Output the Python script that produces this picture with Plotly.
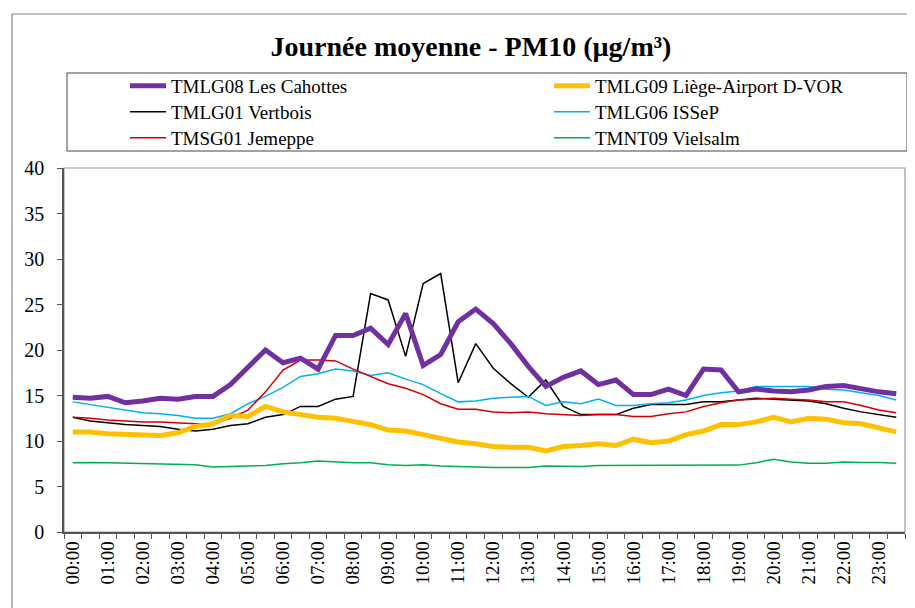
import plotly.graph_objects as go

times = [f"{h:02d}:{m:02d}" for h in range(24) for m in (0, 30)]
tick_text = [t if t.endswith(":00") else "" for t in times]

tmlg08 = [14.8, 14.7, 14.9, 14.2, 14.4, 14.7, 14.6, 14.9, 14.9, 16.2,
          18.1, 20.0, 18.6, 19.1, 17.9, 21.6, 21.6, 22.4, 20.6, 24.0,
          18.3, 19.5, 23.1, 24.5, 22.9, 20.7, 18.2, 16.0, 17.0, 17.7,
          16.2, 16.7, 15.1, 15.1, 15.7, 15.0, 17.9, 17.8, 15.4, 15.7,
          15.5, 15.4, 15.6, 16.0, 16.1, 15.7, 15.4, 15.2]
tmlg09 = [11.0, 11.0, 10.8, 10.7, 10.6, 10.6, 10.9, 11.6, 11.9, 12.8,
          12.7, 13.8, 13.2, 12.9, 12.6, 12.5, 12.1, 11.8, 11.2, 11.1,
          10.7, 10.3, 9.9, 9.7, 9.4, 9.3, 9.3, 8.9, 9.4, 9.5,
          9.7, 9.5, 10.2, 9.8, 10.0, 10.7, 11.1, 11.8, 11.8, 12.1,
          12.6, 12.1, 12.5, 12.4, 12.0, 11.9, 11.5, 11.0]
tmlg01 = [12.6, 12.2, 12.0, 11.8, 11.7, 11.6, 11.3, 11.1, 11.3, 11.7,
          11.9, 12.6, 12.9, 13.8, 13.8, 14.6, 14.9, 26.2, 25.5, 19.3,
          27.3, 28.4, 16.4, 20.7, 18.0, 16.3, 14.8, 16.7, 13.8, 12.9,
          12.9, 12.9, 13.6, 14.0, 14.0, 14.0, 14.3, 14.3, 14.5, 14.7,
          14.6, 14.5, 14.4, 14.1, 13.6, 13.2, 12.9, 12.6]
tmlg06 = [14.3, 14.0, 13.7, 13.4, 13.1, 13.0, 12.8, 12.5, 12.5, 13.0,
          14.1, 14.9, 15.9, 17.1, 17.4, 17.9, 17.7, 17.2, 17.5, 16.8,
          16.2, 15.2, 14.3, 14.4, 14.7, 14.8, 14.9, 13.9, 14.3, 14.1,
          14.6, 13.9, 13.9, 14.1, 14.2, 14.5, 15.0, 15.3, 15.5, 16.0,
          16.0, 16.0, 16.0, 15.7, 15.6, 15.3, 15.0, 14.5]
tmsg01 = [12.6, 12.5, 12.3, 12.2, 12.1, 12.1, 12.0, 11.9, 11.9, 12.5,
          13.4, 15.4, 17.8, 18.9, 18.9, 18.8, 17.9, 17.1, 16.3, 15.8,
          15.1, 14.1, 13.5, 13.5, 13.2, 13.1, 13.2, 13.0, 12.9, 12.8,
          12.9, 12.9, 12.7, 12.7, 13.0, 13.2, 13.8, 14.2, 14.5, 14.6,
          14.7, 14.6, 14.5, 14.3, 14.3, 13.9, 13.4, 13.1]
tmnt09 = [7.6, 7.65, 7.6, 7.55, 7.5, 7.45, 7.4, 7.4, 7.15, 7.2,
          7.25, 7.3, 7.5, 7.6, 7.8, 7.7, 7.6, 7.6, 7.4, 7.3,
          7.4, 7.25, 7.2, 7.1, 7.1, 7.1, 7.1, 7.25, 7.2, 7.2,
          7.3, 7.3, 7.3, 7.3, 7.35, 7.35, 7.35, 7.3, 7.35, 7.6,
          8.0, 7.7, 7.55, 7.55, 7.7, 7.65, 7.65, 7.55]

series = [
    ("TMLG08 Les Cahottes", tmlg08, "#7030A0", 5, "legend"),
    ("TMLG09 Liège-Airport D-VOR", tmlg09, "#FFC000", 5, "legend2"),
    ("TMLG01 Vertbois", tmlg01, "#000000", 1.5, "legend3"),
    ("TMLG06 ISSeP", tmlg06, "#00B0F0", 1.5, "legend4"),
    ("TMSG01 Jemeppe", tmsg01, "#D00000", 1.5, "legend5"),
    ("TMNT09 Vielsalm", tmnt09, "#00B050", 1.5, "legend6"),
]

W, H = 915, 608
OFF = 8  # page body margin of the html page
PL, PR, PT, PB = 64, 905, 168, 532  # target plot box in screen pixels
L, R, T, B = PL - OFF, W - (PR - OFF), PT - OFF, H - (PB - OFF)
pw, ph = PR - PL, PB - PT

def px_x(x):
    return (x - PL) / pw

def px_y(y):
    return (PB - y) / ph

fig = go.Figure()
order = [2, 3, 4, 5, 1, 0]
for i in order:
    name, vals, col, w, lg = series[i]
    fig.add_trace(go.Scatter(x=times, y=vals, mode="lines", name=name,
                             line=dict(color=col, width=w), legend=lg))

serif = "Liberation Serif"
legend_font = dict(family=serif, size=19, color="#000")
col_x = [px_x(125), px_x(549)]
row_y = [px_y(86), px_y(112), px_y(138)]
legends = {}
for k in range(6):
    key = "legend" if k == 0 else f"legend{k+1}"
    legends[key] = dict(x=col_x[k % 2], y=row_y[k // 2], xanchor="left",
                        yanchor="middle", bgcolor="rgba(0,0,0,0)",
                        borderwidth=0, font=legend_font, orientation="v",
                        itemwidth=36)

fig.update_layout(
    width=W, height=H,
    margin=dict(l=L, r=R, t=T, b=B, autoexpand=False),
    paper_bgcolor="white", plot_bgcolor="white",
    showlegend=True,
    title=dict(text="<b>Journée moyenne - PM10 (µg/m³)</b>",
               font=dict(family=serif, size=28, color="#000"),
               x=(471 - OFF) / W, xref="container", xanchor="center",
               y=1 - (46 - OFF) / H, yref="container", yanchor="middle"),
    xaxis=dict(type="category", categoryorder="array", categoryarray=times,
               tickmode="array", tickvals=times, ticktext=tick_text,
               tickson="boundaries", ticks="outside", ticklen=5,
               tickcolor="#555", tickangle=-90,
               tickfont=dict(family=serif, size=19, color="#000"),
               showline=True, linecolor="#555", linewidth=1.5,
               showgrid=False, zeroline=False, range=[-0.5, 47.5]),
    yaxis=dict(range=[0, 40], dtick=5, ticks="outside", ticklen=5,
               tickcolor="#555", ticklabelstandoff=9,
               tickfont=dict(family=serif, size=20, color="#000"),
               showline=True, linecolor="#555", linewidth=1.5,
               showgrid=False, zeroline=False),
    **legends,
)

fig.add_shape(type="rect", xref="paper", yref="paper", x0=0, x1=1, y0=0, y1=1,
              line=dict(color="#9a9a9a", width=1.2), layer="below")
fig.add_shape(type="rect", xref="paper", yref="paper",
              x0=px_x(67), x1=px_x(907), y0=px_y(151), y1=px_y(73),
              line=dict(color="#444", width=1))
fig.add_shape(type="rect", xref="paper", yref="paper",
              x0=px_x(12), x1=px_x(940), y0=px_y(640), y1=px_y(14),
              line=dict(color="#888", width=1.2))

fig.write_html("out.html")
